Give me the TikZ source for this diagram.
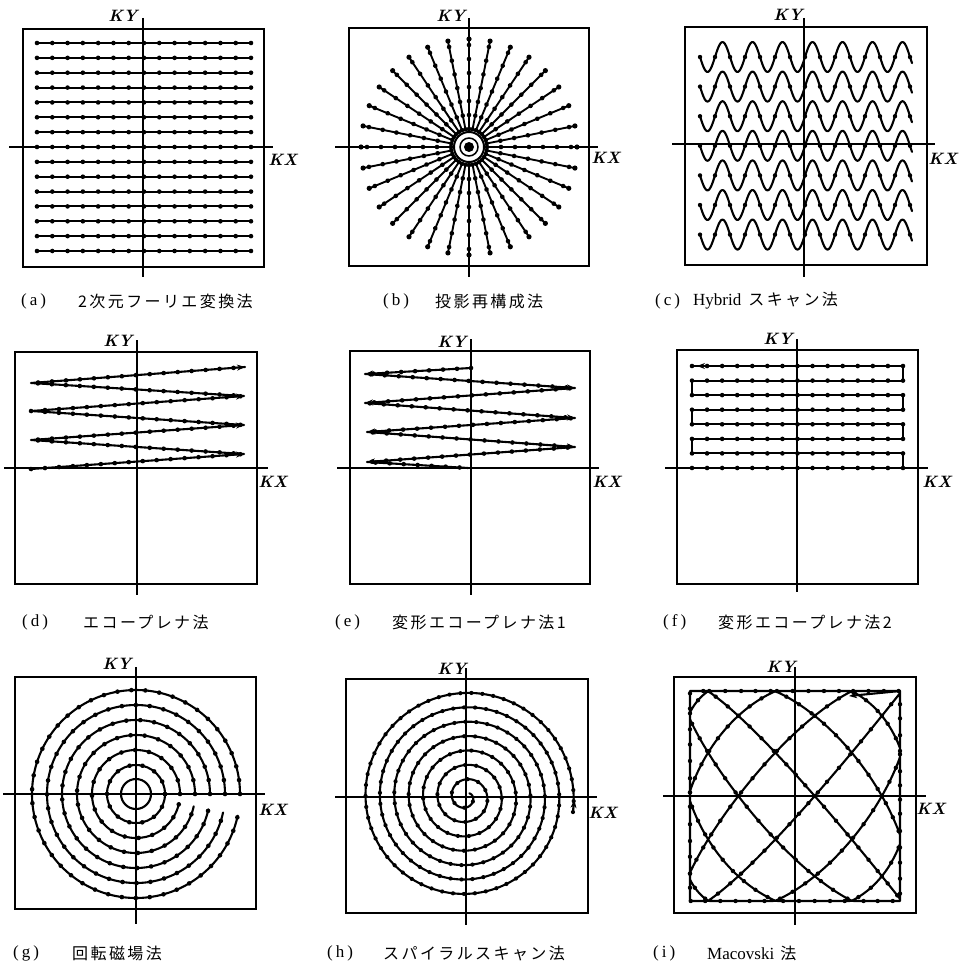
\documentclass[tikz,border=0pt]{standalone}
\usepackage{fontspec}
\newfontfamily\jp[LetterSpace=15]{Noto Sans CJK JP}
\newfontfamily\capser{Liberation Serif}
\usetikzlibrary{decorations.markings,arrows.meta,calc}
\begin{document}
\begin{tikzpicture}[x=1pt,y=-1pt,
  frame/.style={line width=1.6pt},
  axis/.style={line width=1.5pt},
  trace/.style={line width=2.1pt, line join=round, line cap=round},
  dots/.style={postaction={decorate}, decoration={markings, mark=between positions 0 and 1 step #1 with {\fill (0,0) circle (2.3pt);}}},
  arr/.style={line width=1.4pt, -{Stealth[length=8pt,width=6pt]}},
  axlab/.style={font=\fontsize{16.5}{19}\selectfont\bfseries\itshape, inner sep=0pt},
  caplab/.style={font=\fontsize{17}{20}\selectfont\capser, anchor=west, inner sep=0pt},
  latcap/.style={font=\fontsize{17}{20}\selectfont\capser, anchor=west, inner sep=0pt},
  captext/.style={font=\fontsize{16}{19}\selectfont\jp, anchor=west, inner sep=0pt}
]
\useasboundingbox (0,0) rectangle (961,963);

% ---------------- (a) ----------------
\draw[frame] (22.7,29) rectangle (264,267);
\draw[axis] (143,18) -- (143,277);
\draw[axis] (9,147) -- (273,147);
\node[axlab] (aKY) at (123,16) {KY};
\node[axlab] (aKX) at (283,160) {KX};
\foreach \i in {0,...,14} {
  \pgfmathsetmacro\yy{43+\i*14.857}
  \draw[trace] (37,\yy) -- (251,\yy);
  \foreach \j in {0,...,14} \fill ({37+\j*15.286},\yy) circle (2.3pt);
}
\node[caplab] (capa) at (21,301) {(\hspace{3pt}a\hspace{3pt})};
\node[captext] (capat) at (78,301) {2次元フーリエ変換法};

% ---------------- (b) ----------------
\draw[frame] (349,28) rectangle (589,266);
\draw[axis] (469,18) -- (469,277);
\draw[axis] (335,147) -- (598,147);
\node[axlab] (bKY) at (451,16) {KY};
\node[axlab] (bKX) at (606,158) {KX};
\foreach \k in {0,...,31} {
  \pgfmathsetmacro\a{\k*11.25}
  \draw[trace, line width=1.9pt, dots=14pt] ({469+18*cos(\a)},{147-18*sin(\a)}) -- ({469+108*cos(\a)},{147-108*sin(\a)});
  \fill ({469+108*cos(\a)},{147-108*sin(\a)}) circle (2.6pt);
}
\fill[white] (469,147) circle (16pt);
\draw[line width=2pt] (469,147) circle (15pt);
\draw[line width=1.5pt] (469,147) circle (9pt);
\fill (469,147) circle (5pt);
\node[caplab] (capb) at (383,301) {(\hspace{3pt}b\hspace{3pt})};
\node[captext] (capbt) at (435,301) {投影再構成法};

% ---------------- (c) ----------------
\draw[frame] (685,27) rectangle (927,265);
\draw[axis] (804,18) -- (804,277);
\draw[axis] (672,144) -- (935,144);
\node[axlab] (cKY) at (788,15) {KY};
\node[axlab] (cKX) at (943,159) {KX};
\foreach \k in {0,...,6} {
  \pgfmathsetmacro\m{57+\k*29.6}
  \draw[trace] plot[domain=0:212, samples=180, smooth, variable=\t] ({700+\t},{\m+15*sin(12*\t)});
  \foreach \j in {0,...,14} \fill ({700+15*\j},\m) circle (2.2pt);
}
\node[caplab] (capc) at (655,301) {(\hspace{3pt}c\hspace{3pt})};
\node[latcap] (capct) at (693,301) {Hybrid\hspace{7pt}{\fontsize{16}{19}\jp スキャン法}};

% ---------------- (d) ----------------
\draw[frame] (15,352) rectangle (257,584);
\draw[axis] (137,340) -- (137,595);
\draw[axis] (4,468) -- (268,468);
\node[axlab] (dKY) at (118,341) {KY};
\node[axlab] (dKX) at (273,482) {KX};
\coordinate (d0) at (31,469);
\coordinate (d1) at (244,454);
\coordinate (d2) at (31,440);
\coordinate (d3) at (244,425);
\coordinate (d4) at (31,411);
\coordinate (d5) at (244,396);
\coordinate (d6) at (31,383);
\coordinate (d7) at (245,367);
\draw[trace, dots=14pt] (d0) -- (d1) -- (d2) -- (d3) -- (d4) -- (d5) -- (d6) -- (d7);
\foreach \p/\q in {d0/d1,d2/d3,d4/d5,d6/d7} \draw[arr] ($(\p)!0.92!(\q)$) -- (\q);
\node[caplab] (capd) at (22,622) {(\hspace{3pt}d\hspace{3pt})};
\node[captext] (capdt) at (83,622) {エコープレナ法};

% ---------------- (e) ----------------
\draw[frame] (350,351) rectangle (590,584);
\draw[axis] (471,339) -- (471,595);
\draw[axis] (337,468) -- (599,468);
\node[axlab] (eKY) at (452,342) {KY};
\node[axlab] (eKX) at (607,482) {KX};
\coordinate (e0) at (471,368);
\coordinate (e1) at (365,374);
\coordinate (e2) at (575,388);
\coordinate (e3) at (365,403);
\coordinate (e4) at (575,418);
\coordinate (e5) at (367,432);
\coordinate (e6) at (575,447);
\coordinate (e7) at (367,462);
\coordinate (e8) at (468,468);
\draw[trace, dots=14pt] (e0) -- (e1) -- (e2) -- (e3) -- (e4) -- (e5) -- (e6) -- (e7) -- (e8);
\foreach \p/\q in {e0/e1,e1/e2,e2/e3,e3/e4,e4/e5,e5/e6,e6/e7} \draw[arr] ($(\p)!0.9!(\q)$) -- (\q);
\node[caplab] (cape) at (335,622) {(\hspace{3pt}e\hspace{3pt})};
\node[captext] (capet) at (392,622) {変形エコープレナ法1};

% ---------------- (f) ----------------
\draw[frame] (677,350) rectangle (918,584);
\draw[axis] (797,339) -- (797,592);
\draw[axis] (665,468) -- (928,468);
\node[axlab] (fKY) at (778,339) {KY};
\node[axlab] (fKX) at (937,482) {KX};
\foreach \n/\yy in {0/468,1/453.4,2/438.9,3/424.3,4/409.7,5/395.1,6/380.6,7/366} {
  \coordinate (fl\n) at (692,\yy);
  \coordinate (fr\n) at (903,\yy);
  \foreach \j in {0,...,14} \fill ({692+\j*15.07},\yy) circle (2.3pt);
}
\draw[trace] (fl0) -- (fr0) -- (fr1) -- (fl1) -- (fl2) -- (fr2) -- (fr3) -- (fl3) -- (fl4) -- (fr4) -- (fr5) -- (fl5) -- (fl6) -- (fr6) -- (fr7) -- (fl7);
\draw[arr] (712,366) -- (697,366);
\node[caplab] (capf) at (663,622) {(\hspace{3pt}f\hspace{3pt})};
\node[captext] (capft) at (718,622) {変形エコープレナ法2};

% ---------------- (g) ----------------
\draw[frame] (15,677) rectangle (256,909);
\draw[axis] (136,667) -- (136,924);
\draw[axis] (3,794) -- (265,794);
\node[axlab] (gKY) at (117,664) {KY};
\node[axlab] (gKX) at (273,810) {KX};
\draw[trace] (136,794) circle (15pt);
\draw[trace, dots=13pt] (136,794) circle (29pt);
\foreach \r in {44,59,74,89,104} {
  \draw[trace] plot[domain=0:348, samples=120, smooth, variable=\t] ({136+\r*cos(\t)},{794-\r*sin(\t)});
  \pgfmathsetmacro\dd{802/\r}
  \pgfmathtruncatemacro\nn{348/\dd}
  \foreach \j in {0,...,\nn} \fill ({136+\r*cos(\j*\dd)},{794-\r*sin(\j*\dd)}) circle (2.3pt);
}
\node[caplab] (capg) at (13,953) {(\hspace{3pt}g\hspace{3pt})};
\node[captext] (capgt) at (72,953) {回転磁場法};

% ---------------- (h) ----------------
\draw[frame] (346,679) rectangle (588,913);
\draw[axis] (466,668) -- (466,925);
\draw[axis] (335,797) -- (597,797);
\node[axlab] (hKY) at (452,669) {KY};
\node[axlab] (hKX) at (603,813) {KX};
\draw[trace] plot[domain=0:2575, samples=700, smooth, variable=\t] ({466+(108-0.04*\t)*cos(\t-8)}, {797-(108-0.04*\t)*sin(\t-8)});
\foreach \j in {0,...,230} {
  \pgfmathsetmacro\tv{(108-sqrt(max(11664-50.42*\j,0)))/0.04}
  \fill ({466+(108-0.04*\tv)*cos(\tv-8)},{797-(108-0.04*\tv)*sin(\tv-8)}) circle (2.1pt);
}
\coordinate (hs) at (573,812);
\coordinate (ha) at (574.4,800);
\draw[arr] (hs) -- (ha);
\node[caplab] (caph) at (327,953) {(\hspace{3pt}h\hspace{3pt})};
\node[captext] (capht) at (383,953) {スパイラルスキャン法};

% ---------------- (i) ----------------
\draw[frame] (674,677) rectangle (916,913);
\draw[axis] (795,667) -- (795,925);
\draw[axis] (663,796) -- (926,796);
\node[axlab] (iKY) at (781,667) {KY};
\node[axlab] (iKX) at (931,809) {KX};
\draw[trace] plot[domain=0:180, samples=1000, variable=\t] ({795+105*max(-1,min(1,1.08*cos(8*\t)))}, {796-105*max(-1,min(1,1.08*cos(9*\t)))});
\xdef\ipx{900}\xdef\ipy{691}\xdef\iacc{0}
\foreach \j in {1,...,900} {
  \pgfmathsetmacro\nx{795+105*max(-1,min(1,1.08*cos(1.6*\j)))}
  \pgfmathsetmacro\ny{796-105*max(-1,min(1,1.08*cos(1.8*\j)))}
  \pgfmathsetmacro\na{\iacc+veclen(\nx-\ipx,\ny-\ipy)}
  \xdef\ipx{\nx}\xdef\ipy{\ny}
  \ifdim \na pt > 14pt
    \fill (\nx,\ny) circle (2.2pt);
    \xdef\iacc{0}
  \else
    \xdef\iacc{\na}
  \fi
}
\coordinate (ic) at (900,691);
\coordinate (is) at (849,696);
\draw[trace] (ic) -- ($(is)+(6,-0.6)$);
\draw[arr] ($(is)+(13,-1.3)$) -- (is);
\node[caplab] (capi) at (653,953) {(\hspace{3pt}i\hspace{3pt})};
\node[latcap] (capit) at (707,953) {Macovski\hspace{6pt}{\fontsize{16}{19}\jp 法}};
\end{tikzpicture}
\end{document}
